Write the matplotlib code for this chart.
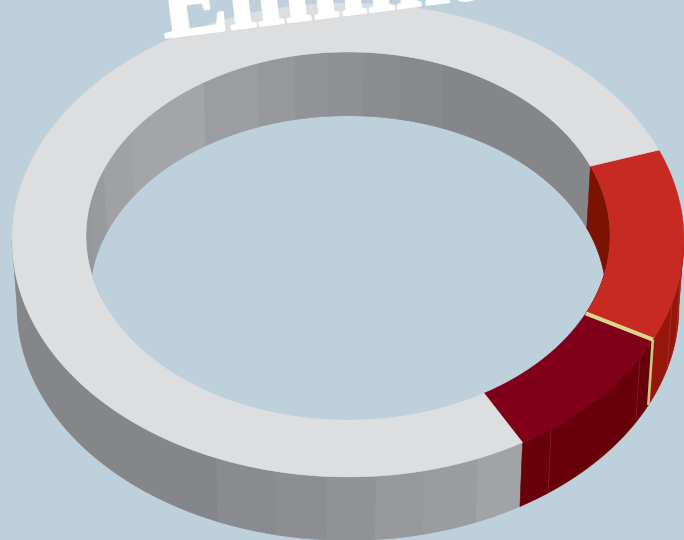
#!/usr/bin/env python
# plot.py - tilted donut with a heavy rim

import numpy as np
import matplotlib
matplotlib.use("Agg")
import matplotlib.pyplot as plt
import matplotlib.patheffects as pe
from matplotlib.patches import Polygon

############################
# Data
############################
SEGMENT_NAMES = ["rest", "first", "second"]
SEGMENT_SHARES = [77.5, 13.1, 9.4]  # percent
TITLE = "Eliminated"

############################
# Colours
############################
BG = "#bdd0dc"
TOP_COLORS = {"rest": "#dcdee0", "first": "#c72a22", "second": "#80001a"}
OUTER_COLORS = {"first": "#97160c", "second": "#670008"}
INNER_RED = "#7c1200"
DIVIDER = "#dcd88a"
DIVIDER_WALL = "#c9c57e"

# wall facets of the gray part: (from angle, to angle, colour)
OUTER_FACETS = [
    (-180, -113, "#85868a"), (-113, -102.4, "#8a8b8f"), (-102.4, -93.6, "#8d8e92"),
    (-93.6, -85.2, "#919296"), (-85.2, -76.8, "#97989b"), (-76.8, -67.2, "#9b9c9f"),
    (-67.2, -58.5, "#a2a3a6"),
]
INNER_FACETS = [
    (22, 69, "#85868a"), (69, 78.8, "#88898d"), (78.8, 86.7, "#8b8c90"),
    (86.7, 94.4, "#8f9094"), (94.4, 101.9, "#929397"), (101.9, 110.3, "#97989c"),
    (110.3, 123.6, "#9c9da1"), (123.6, 146, "#a4a5a9"), (146, 159, "#a0a1a4"),
    (159, 170, "#999a9e"), (170, 200, "#96979a"),
]
SEAMS = [-15.4, -8.0, -29.6, -52.8]

############################
# Ring geometry, in image pixels
############################
CX = 348
OUTER = dict(a=336, b=237, cy=240, drop=67)
INNER = dict(a=262, b=184, cy=236, drop=61)
LOWER_SCALE = 0.985
START_ANGLE = 22.3


def arc(ring, t0, t1, lower=False, n=60):
    """Points along a ring edge from angle t0 to t1 (degrees)."""
    t = np.radians(np.linspace(t0, t1, n))
    k = LOWER_SCALE if lower else 1.0
    cy = ring["cy"] + (ring["drop"] if lower else 0)
    return np.column_stack([CX + k * ring["a"] * np.cos(t), cy - k * ring["b"] * np.sin(t)])


def add_wall(ax, ring, t0, t1, color):
    pts = np.vstack([arc(ring, t0, t1), arc(ring, t1, t0, lower=True)])
    ax.add_patch(Polygon(pts, closed=True, facecolor=color, edgecolor=color, lw=0.4))


def add_top(ax, t0, t1, color):
    pts = np.vstack([arc(OUTER, t0, t1, n=200), arc(INNER, t1, t0, n=200)])
    ax.add_patch(Polygon(pts, closed=True, facecolor=color, edgecolor=color, lw=0.3))


def wall_line(ax, ring, t, color, lw):
    a = arc(ring, t, t, n=1)[0]
    b = arc(ring, t, t, lower=True, n=1)[0]
    ax.plot([a[0], b[0]], [a[1], b[1]], color=color, lw=lw, solid_capstyle="butt")


def main():
    fig = plt.figure(figsize=(6.84, 5.4), dpi=100, facecolor=BG)
    ax = fig.add_axes([0, 0, 1, 1])
    ax.set_xlim(0, 684)
    ax.set_ylim(540, 0)
    ax.axis("off")

    # segment limits, going clockwise from the start angle
    spans = dict(zip(SEGMENT_NAMES, np.array(SEGMENT_SHARES) * 3.6))
    first_end = START_ANGLE - spans["first"]
    second_end = first_end - spans["second"]

    # inner walls first, the top face hides what should not show
    for t0, t1, col in INNER_FACETS:
        add_wall(ax, INNER, t0, t1, col)
    add_wall(ax, INNER, first_end, START_ANGLE, INNER_RED)

    # outer walls
    for t0, t1, col in OUTER_FACETS:
        add_wall(ax, OUTER, t0, t1, col)
    add_wall(ax, OUTER, second_end, first_end, OUTER_COLORS["second"])
    add_wall(ax, OUTER, first_end, 0, OUTER_COLORS["first"])
    for t in SEAMS:
        col = "#a83a30" if t > first_end else "#84222c"
        wall_line(ax, OUTER, t, col, 0.5)
    wall_line(ax, OUTER, first_end, DIVIDER_WALL, 1.9)

    # top face
    add_top(ax, second_end, first_end, TOP_COLORS["second"])
    add_top(ax, first_end, START_ANGLE, TOP_COLORS["first"])
    add_top(ax, START_ANGLE, second_end + 360, TOP_COLORS["rest"])

    # divider between the two red parts
    p = np.vstack([arc(INNER, first_end, first_end, n=1), arc(OUTER, first_end, first_end, n=1)])
    ax.plot(p[:, 0], p[:, 1], color=DIVIDER, lw=2.9, solid_capstyle="butt")

    # the title runs off the top of the picture in the reference too
    title = ax.text(164, 38, TITLE, color="white", fontsize=72, fontweight="bold",
                    family="Liberation Serif", rotation=7.2, rotation_mode="anchor",
                    ha="left", va="baseline")
    title.set_path_effects([pe.withStroke(linewidth=1.6, foreground="white")])

    fig.savefig("out.png", dpi=100, facecolor=BG)


if __name__ == "__main__":
    main()
